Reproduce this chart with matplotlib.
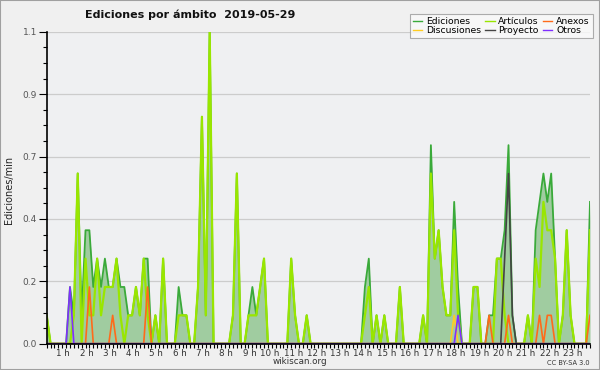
import matplotlib
matplotlib.use('Agg')
import matplotlib.pyplot as plt
from matplotlib.ticker import FixedLocator, MultipleLocator
from matplotlib.patches import Rectangle
import numpy as np

# 10-minute bins, edits per minute (one row per hour)
ediciones = [
    0.1, 0, 0, 0, 0, 0,
    0.2, 0.1, 0.6, 0.1, 0.4, 0.4,
    0.2, 0.3, 0.2, 0.3, 0.2, 0.2,
    0.3, 0.2, 0.2, 0.1, 0.1, 0.2,
    0.1, 0.3, 0.3, 0, 0.1, 0,
    0.3, 0, 0, 0, 0.2, 0.1,
    0.1, 0, 0, 0.2, 0.8, 0.1,
    1.1, 0, 0, 0, 0, 0,
    0.1, 0.6, 0, 0, 0.1, 0.2,
    0.1, 0.2, 0.3, 0, 0, 0,
    0, 0, 0, 0.3, 0.1, 0,
    0, 0.1, 0, 0, 0, 0,
    0, 0, 0, 0, 0, 0,
    0, 0, 0, 0, 0.2, 0.3,
    0, 0.1, 0, 0.1, 0, 0,
    0, 0.2, 0, 0, 0, 0,
    0, 0.1, 0, 0.7, 0.3, 0.4,
    0.2, 0.1, 0.1, 0.5, 0.2, 0,
    0, 0, 0.2, 0.2, 0, 0,
    0.1, 0.1, 0.3, 0.3, 0.4, 0.7,
    0.1, 0, 0, 0, 0.1, 0,
    0.4, 0.5, 0.6, 0.5, 0.6, 0.3,
    0, 0.1, 0.4, 0.1, 0, 0,
    0, 0, 0.5,
]
articulos = [
    0.1, 0, 0, 0, 0, 0,
    0, 0.1, 0.6, 0, 0.3, 0.1,
    0.1, 0.3, 0.1, 0.2, 0.2, 0.2,
    0.3, 0.1, 0, 0.1, 0.1, 0.2,
    0.1, 0.3, 0.1, 0, 0.1, 0,
    0.3, 0, 0, 0, 0.1, 0.1,
    0.1, 0, 0, 0.2, 0.8, 0.1,
    1.1, 0, 0, 0, 0, 0,
    0.1, 0.6, 0, 0, 0.1, 0.1,
    0.1, 0.2, 0.3, 0, 0, 0,
    0, 0, 0, 0.3, 0.1, 0,
    0, 0.1, 0, 0, 0, 0,
    0, 0, 0, 0, 0, 0,
    0, 0, 0, 0, 0.1, 0.2,
    0, 0.1, 0, 0.1, 0, 0,
    0, 0.2, 0, 0, 0, 0,
    0, 0.1, 0, 0.6, 0.3, 0.4,
    0.2, 0.1, 0.1, 0.4, 0.1, 0,
    0, 0, 0.2, 0.2, 0, 0,
    0, 0, 0.3, 0.3, 0.1, 0,
    0, 0, 0, 0, 0.1, 0,
    0.3, 0.2, 0.5, 0.4, 0.4, 0.3,
    0, 0.1, 0.4, 0.1, 0, 0,
    0, 0, 0.4,
]
anexos_bins = [11, 17, 26, 114, 119, 127, 129, 130, 140]
anexos_vals = [0.2, 0.1, 0.2, 0.1, 0.1, 0.1, 0.1, 0.1, 0.1]
discusiones_bins = [105]
discusiones_vals = [0.1]
proyecto_bins = [118, 119, 120]
proyecto_vals = [0.3, 0.6, 0.1]
otros_bins = [6, 106]
otros_vals = [0.2, 0.1]

hour_labels = [f"{h} h" for h in range(1, 24)]
ytick_vals = [0, 0.22, 0.44, 0.66, 0.88, 1.1]
ytick_labels = ['0.0', '0.2', '0.4', '0.7', '0.9', '1.1']

n = len(ediciones)
x = np.arange(n)


def series(bins, vals):
    s = np.zeros(n)
    s[bins] = vals
    return s


anexos = series(anexos_bins, anexos_vals)
discusiones = series(discusiones_bins, discusiones_vals)
proyecto = series(proyecto_bins, proyecto_vals)
otros = series(otros_bins, otros_vals)

W, H = 600, 370
fig = plt.figure(figsize=(6, 3.7), dpi=100)
fig.patch.set_facecolor('#f0f0f0')
L, R, T, B = 46.7, 590, 31.7, 343.7
ax = fig.add_axes([L / W, 1 - B / H, (R - L) / W, (B - T) / H])
ax.set_facecolor('#eff0f2')

ax.set_xlim(0, n - 1)
ax.set_ylim(0, 1.1)

ax.fill_between(x, ediciones, color='#a0cca0', lw=0, zorder=2)
ax.plot(x, ediciones, color='#3aaa3a', lw=1.3, zorder=3, label='Ediciones')
ax.plot(x, articulos, color='#99e600', lw=1.6, zorder=4, label='Artículos')
ax.plot(x, anexos, color='#ff6a1a', lw=1.2, zorder=5, label='Anexos')
ax.plot(x, discusiones, color='#ffcc22', lw=1.2, zorder=5, label='Discusiones')
ax.plot(x, proyecto, color='#444444', lw=1.2, zorder=5, label='Proyecto')
ax.plot(x, otros, color='#7f2fff', lw=1.2, zorder=5, label='Otros')

# axes styling
for s in ['top', 'right']:
    ax.spines[s].set_visible(False)
for s in ['left', 'bottom']:
    ax.spines[s].set_color('black')
    ax.spines[s].set_linewidth(1.2)
    ax.spines[s].set_zorder(6)

ax.yaxis.set_major_locator(FixedLocator(ytick_vals))
ax.set_yticklabels(ytick_labels)
ax.yaxis.set_minor_locator(MultipleLocator(0.055))
ax.grid(axis='y', which='major', color='#cccccc', lw=0.9, zorder=1)
ax.tick_params(axis='y', which='major', length=6, width=0.8, labelsize=6.5,
               labelcolor='#555555', pad=1)
ax.tick_params(axis='y', which='minor', length=3, width=0.8)

hour_pos = [6 * h for h in range(1, 24)]
ax.xaxis.set_major_locator(FixedLocator(hour_pos))
ax.set_xticklabels(hour_labels)
ax.xaxis.set_minor_locator(MultipleLocator(1))
ax.tick_params(axis='x', which='both', length=3, width=0.8, labelsize=6.3,
               labelcolor='#333333', pad=0.5)
for lbl in ax.get_xticklabels():
    lbl.set_ha('right')

fig.text(9 / W, 1 - 190 / H, 'Ediciones/min', fontsize=7, color='#222222',
         rotation=90, ha='center', va='center')

fig.text(190 / W, 1 - 15 / H, 'Ediciones por ámbito  2019-05-29', fontsize=8,
         fontweight='bold', ha='center', va='center', color='#111111')
fig.text(300 / W, 1 - 361 / H, 'wikiscan.org', fontsize=6.3, ha='center',
         va='center', color='#333333')
fig.text(590 / W, 1 - 363 / H, 'CC BY-SA 3.0', fontsize=4.8, ha='right',
         va='center', color='#333333')

handles, labels = ax.get_legend_handles_labels()
order = [0, 3, 1, 4, 2, 5]
leg = fig.legend([handles[i] for i in order], [labels[i] for i in order],
                 ncol=3, loc='upper right', bbox_to_anchor=(593 / W, 1 - 13.5 / H),
                 fontsize=6.7, frameon=True, fancybox=False, handlelength=1.0,
                 handletextpad=0.4, columnspacing=0.45, labelspacing=0.0,
                 borderpad=0.35, borderaxespad=0)
leg.get_frame().set_edgecolor('#999999')
leg.get_frame().set_facecolor('#fafafa')
leg.get_frame().set_linewidth(0.8)
for h in leg.get_lines():
    h.set_linewidth(1.0)

fig.patches.append(Rectangle((0, 0), 1, 1, transform=fig.transFigure, fill=False,
                             edgecolor='#a0a0a0', lw=1.5))

fig.savefig('out.png', dpi=100, facecolor=fig.get_facecolor())
